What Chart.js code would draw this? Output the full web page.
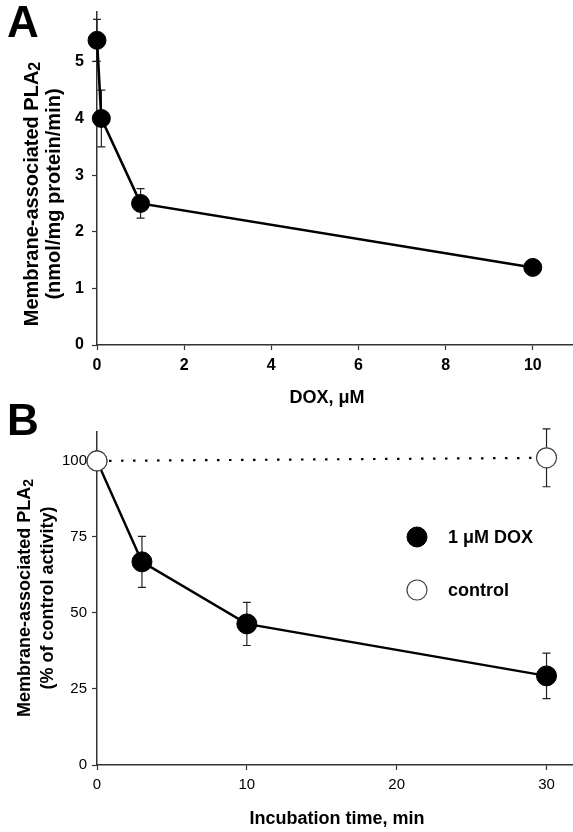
<!DOCTYPE html>
<html>
<head>
<meta charset="utf-8">
<script src="https://cdn.jsdelivr.net/npm/chart.js@4.4.1/dist/chart.umd.min.js"></script>
<style>
  html, body { margin: 0; padding: 0; background: #fff; }
  #wrapA { position: absolute; left: 0; top: 0; width: 573px; height: 410px; }
  #wrapB { position: absolute; left: 0; top: 395px; width: 573px; height: 437px; }
</style>
</head>
<body>
<div id="wrapA"><canvas id="chartA"></canvas></div>
<div id="wrapB"><canvas id="chartB"></canvas></div>
<script>
const FONT = '"Liberation Sans", Arial, Helvetica, sans-serif';

// panel A - PLA2 vs DOX concentration
const doseX = [0, 0.1, 1, 10];
const pla2Activity = [5.38, 4.0, 2.5, 1.37];
const pla2Err = [0.37, 0.5, 0.26, 0.05];
const doseTicks = [0, 2, 4, 6, 8, 10];
const activityTicks = [0, 1, 2, 3, 4, 5];

// panel B - time course, % of control
const timeX = [0, 3, 10, 30];
const doxPercent = [100, 66.8, 46.4, 29.3];
const doxErr = [0, 8.4, 7.1, 7.5];
const controlX = [0, 30];
const controlPercent = [100, 101];
const controlErr = [0, 9.5];
const timeTicks = [0, 10, 20, 30];
const percentTicks = [0, 25, 50, 75, 100];

function points(xs, ys) {
  return xs.map((x, i) => ({ x: x, y: ys[i] }));
}

function fixedTicks(list) {
  return function (scale) {
    scale.ticks = list.map(v => ({ value: v }));
  };
}

// error bars drawn under the markers
const errorBars = {
  id: "errorBars",
  beforeDatasetsDraw(chart) {
    const ctx = chart.ctx;
    const xs = chart.scales.x, ys = chart.scales.y;
    ctx.save();
    ctx.strokeStyle = "#222";
    ctx.lineWidth = 1.2;
    chart.data.datasets.forEach(ds => {
      if (!ds.errors) return;
      ds.data.forEach((p, i) => {
        const e = ds.errors[i];
        if (!e) return;
        const px = xs.getPixelForValue(p.x);
        const top = ys.getPixelForValue(p.y + e);
        const bot = ys.getPixelForValue(p.y - e);
        ctx.beginPath();
        ctx.moveTo(px, top); ctx.lineTo(px, bot);
        ctx.moveTo(px - 4, top); ctx.lineTo(px + 4, top);
        ctx.moveTo(px - 4, bot); ctx.lineTo(px + 4, bot);
        ctx.stroke();
      });
    });
    ctx.restore();
  }
};

function rotatedTitle(ctx, cx, cy, main, sub, font, subFont) {
  ctx.save();
  ctx.translate(cx, cy);
  ctx.rotate(-Math.PI / 2);
  ctx.fillStyle = "#000";
  ctx.textBaseline = "middle";
  ctx.textAlign = "left";
  ctx.font = font;
  const w1 = ctx.measureText(main).width;
  let w2 = 0;
  if (sub) { ctx.font = subFont; w2 = ctx.measureText(sub).width; }
  const x0 = -(w1 + w2) / 2;
  ctx.font = font;
  ctx.fillText(main, x0, 0);
  if (sub) {
    ctx.font = subFont;
    ctx.fillText(sub, x0 + w1, 4);
  }
  ctx.restore();
}

// panel letter, axis titles and in-plot legend
const panelText = {
  id: "panelText",
  afterDraw(chart, args, opts) {
    const ctx = chart.ctx;
    ctx.save();
    ctx.fillStyle = "#000";
    ctx.font = "bold 44px " + FONT;
    ctx.textAlign = "left";
    ctx.textBaseline = "alphabetic";
    ctx.fillText(opts.letter, opts.letterX, opts.letterY);

    const yf = "bold " + opts.yTitleSize + "px " + FONT;
    const ysf = "bold " + Math.round(opts.yTitleSize * 0.8) + "px " + FONT;
    rotatedTitle(ctx, opts.yTitleX[0], opts.yTitleY, "Membrane-associated PLA", "2", yf, ysf);
    rotatedTitle(ctx, opts.yTitleX[1], opts.yTitleY, opts.yTitle2, null, yf);

    ctx.font = "bold 18px " + FONT;
    ctx.textAlign = "center";
    ctx.textBaseline = "middle";
    ctx.fillText(opts.xTitle, opts.xTitleX, opts.xTitleY);

    if (opts.legend) {
      const area = chart.chartArea;
      ctx.textAlign = "left";
      ctx.font = "bold 18px " + FONT;
      opts.legend.forEach((item, i) => {
        const ds = chart.data.datasets[item.dataset];
        const lx = area.left + 320, ly = area.top + 105 + i * 53;
        ctx.beginPath();
        ctx.arc(lx, ly, ds.pointRadius, 0, Math.PI * 2);
        ctx.fillStyle = ds.pointBackgroundColor;
        ctx.fill();
        ctx.lineWidth = ds.pointBorderWidth;
        ctx.strokeStyle = ds.pointBorderColor;
        ctx.stroke();
        ctx.fillStyle = "#000";
        ctx.fillText(item.label, lx + 31, ly + 1);
      });
    }
    ctx.restore();
  }
};

function axisOpts(tickList, min, max, size, bold, pad, fitFn) {
  return {
    type: "linear",
    min: min,
    max: max,
    afterBuildTicks: fixedTicks(tickList),
    ticks: {
      color: "#000",
      font: { family: FONT, size: size, weight: bold ? "bold" : "normal" },
      padding: pad,
      maxRotation: 0
    },
    grid: {
      display: true,
      drawOnChartArea: false,
      drawTicks: true,
      tickLength: 5,
      tickWidth: 1.2,
      color: "#333"
    },
    border: { display: true, color: "#333", width: 1.5 },
    afterFit: fitFn
  };
}

// fixed box sizes, no extra room for edge labels
function fitX(h) {
  return s => { s.height = h; s.paddingLeft = 0; s.paddingRight = 0; };
}
function fitY(w) {
  return s => { s.width = w; s.paddingTop = 0; s.paddingBottom = 0; };
}

Chart.defaults.font.family = FONT;
Chart.defaults.animation = false;

new Chart(document.getElementById("chartA"), {
  type: "line",
  data: {
    datasets: [{
      data: points(doseX, pla2Activity),
      errors: pla2Err,
      borderColor: "#000",
      borderWidth: 2.6,
      pointRadius: 9,
      pointBackgroundColor: "#000",
      pointBorderColor: "#000",
      pointBorderWidth: 1,
      tension: 0,
      clip: false
    }]
  },
  options: {
    responsive: true,
    maintainAspectRatio: false,
    layout: { autoPadding: false, padding: { top: 12, right: 1, left: 0, bottom: 0 } },
    plugins: {
      legend: { display: false },
      tooltip: { enabled: false },
      panelText: {
        letter: "A", letterX: 7, letterY: 37,
        yTitleSize: 20, yTitleX: [32, 54], yTitleY: 194,
        yTitle2: "(nmol/mg protein/min)",
        xTitle: "DOX, \u03bcM", xTitleX: 327, xTitleY: 398
      }
    },
    scales: {
      x: axisOpts(doseTicks, 0, 10.9, 16, true, 6, fitX(65)),
      y: axisOpts(activityTicks, 0, 5.88, 16, true, 8, fitY(97))
    }
  },
  plugins: [errorBars, panelText]
});

new Chart(document.getElementById("chartB"), {
  type: "line",
  data: {
    datasets: [{
      data: points(controlX, controlPercent),
      errors: controlErr,
      borderColor: "#000",
      borderWidth: 2.2,
      borderDash: [2.5, 9.5],
      pointRadius: 10,
      pointBackgroundColor: "#fff",
      pointBorderColor: "#444",
      pointBorderWidth: 1.2,
      order: 0,
      clip: false
    }, {
      data: points(timeX, doxPercent),
      errors: doxErr,
      borderColor: "#000",
      borderWidth: 2.4,
      pointRadius: 10,
      pointBackgroundColor: "#000",
      pointBorderColor: "#000",
      pointBorderWidth: 1,
      order: 1,
      clip: false
    }]
  },
  options: {
    responsive: true,
    maintainAspectRatio: false,
    layout: { autoPadding: false, padding: { top: 37, right: 1, left: 0, bottom: 0 } },
    plugins: {
      legend: { display: false },
      tooltip: { enabled: false },
      panelText: {
        letter: "B", letterX: 7, letterY: 40,
        yTitleSize: 18, yTitleX: [25, 48], yTitleY: 203,
        yTitle2: "(% of control activity)",
        xTitle: "Incubation time, min", xTitleX: 337, xTitleY: 424,
        legend: [{ dataset: 1, label: "1 \u03bcM DOX" }, { dataset: 0, label: "control" }]
      }
    },
    scales: {
      x: axisOpts(timeTicks, 0, 31.7, 15, false, 6, fitX(67)),
      y: axisOpts(percentTicks, 0, 109.5, 15, false, 5, fitY(97))
    }
  },
  plugins: [errorBars, panelText]
});
</script>
</body>
</html>
